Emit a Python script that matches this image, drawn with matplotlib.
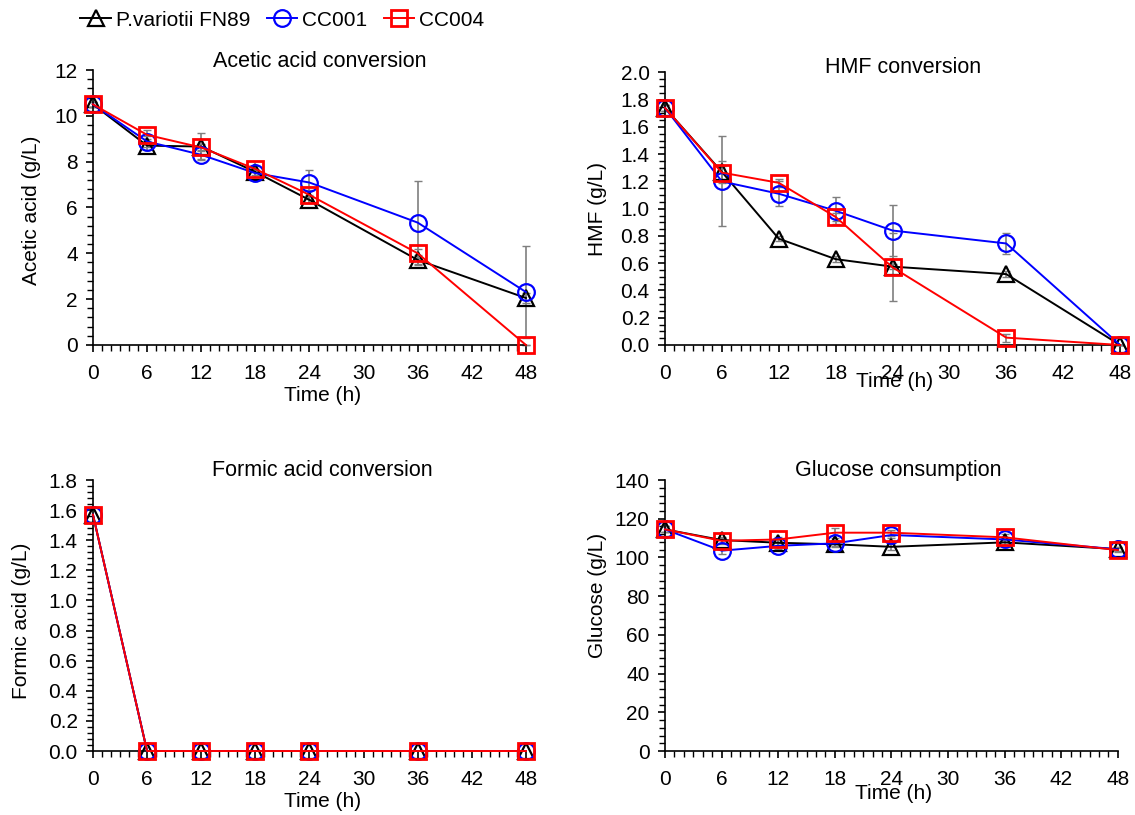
import matplotlib
matplotlib.use("Agg")
import matplotlib.pyplot as plt
from matplotlib.ticker import MultipleLocator

plt.rcParams['font.family'] = ['Liberation Sans', 'DejaVu Sans']
plt.rcParams['font.size'] = 15

# sampling times (h)
time = [0, 6, 12, 18, 24, 36, 48]
strains = ["P.variotii FN89", "CC001", "CC004"]

# acetic acid (g/L)
acetic_fn89 = [10.5, 8.7, 8.66, 7.55, 6.33, 3.71, 2.05]
acetic_cc001 = [10.5, 8.88, 8.3, 7.5, 7.09, 5.34, 2.31]
acetic_cc004 = [10.5, 9.17, 8.62, 7.68, 6.55, 4.0, 0.0]
acetic_fn89_err = [0.1, 0.2, 0.6, 0.15, 0.15, 0.2, 0.2]
acetic_cc001_err = [0.1, 0.25, 0.2, 0.15, 0.55, 1.8, 2.0]
acetic_cc004_err = [0.1, 0.2, 0.15, 0.15, 0.2, 0.2, 0.0]

# HMF (g/L)
hmf_fn89 = [1.74, 1.27, 0.78, 0.63, 0.575, 0.52, 0.0]
hmf_cc001 = [1.74, 1.20, 1.11, 0.985, 0.84, 0.745, 0.0]
hmf_cc004 = [1.74, 1.265, 1.19, 0.94, 0.57, 0.054, 0.0]
hmf_fn89_err = [0.02, 0.08, 0.02, 0.02, 0.02, 0.02, 0.0]
hmf_cc001_err = [0.02, 0.33, 0.09, 0.1, 0.19, 0.08, 0.0]
hmf_cc004_err = [0.02, 0.05, 0.03, 0.03, 0.25, 0.03, 0.0]

# formic acid (g/L)
formic_fn89 = [1.57, 0, 0, 0, 0, 0, 0]
formic_cc001 = [1.57, 0, 0, 0, 0, 0, 0]
formic_cc004 = [1.57, 0, 0, 0, 0, 0, 0]

# glucose (g/L)
glucose_fn89 = [114.5, 109.0, 107.6, 106.8, 105.5, 107.8, 104.3]
glucose_cc001 = [114.5, 103.5, 106.0, 107.3, 111.6, 109.3, 104.2]
glucose_cc004 = [114.5, 108.6, 109.3, 112.8, 112.8, 110.4, 103.8]
glucose_fn89_err = [1.5, 1.5, 2.0, 1.5, 1.5, 1.5, 1.0]
glucose_cc001_err = [1.5, 1.5, 1.5, 1.5, 1.5, 1.5, 1.0]
glucose_cc004_err = [1.5, 1.5, 1.5, 2.5, 1.5, 1.5, 1.0]

styles = [
    dict(color='black', marker='^', ms=11, mew=1.6),
    dict(color='blue', marker='o', ms=12, mew=1.6),
    dict(color='red', marker='s', ms=11, mew=2.0),
]

fig = plt.figure(figsize=(11.35, 8.15), dpi=100)

panels = [
    # rect, series, errors, ylim, major, minor, ylabel, title, title pos, ylabel pos, xlabel pos
    ([0.0819, 0.5767, 0.3815, 0.3374],
     [acetic_fn89, acetic_cc001, acetic_cc004],
     [acetic_fn89_err, acetic_cc001_err, acetic_cc004_err],
     (0, 12), 2, 0.4, "Acetic acid (g/L)", "Acetic acid conversion",
     (0.524, 1.03), (-0.12, 0.49), (0.53, -0.15), '%d'),
    ([0.5859, 0.5767, 0.4009, 0.3344],
     [hmf_fn89, hmf_cc001, hmf_cc004],
     [hmf_fn89_err, hmf_cc001_err, hmf_cc004_err],
     (0, 2.0), 0.2, 0.05, "HMF (g/L)", "HMF conversion",
     (0.523, 1.02), (-0.127, 0.5), (0.505, -0.1), '%.1f'),
    ([0.0819, 0.0785, 0.3815, 0.3325],
     [formic_fn89, formic_cc001, formic_cc004],
     None,
     (0, 1.8), 0.2, 0.04, "Formic acid (g/L)", "Formic acid conversion",
     (0.53, 1.035), (-0.143, 0.48), (0.53, -0.152), '%.1f'),
    ([0.5859, 0.0785, 0.399, 0.3325],
     [glucose_fn89, glucose_cc001, glucose_cc004],
     [glucose_fn89_err, glucose_cc001_err, glucose_cc004_err],
     (0, 140), 20, 4, "Glucose (g/L)", "Glucose consumption",
     (0.514, 1.035), (-0.127, 0.575), (0.505, -0.122), '%d'),
]

handles = []
for rect, series, errs, ylim, major, minor, ylabel, title, tpos, ylpos, xlpos, fmt in panels:
    ax = fig.add_axes(rect)
    for i, vals in enumerate(series):
        if errs is not None:
            ax.errorbar(time, vals, yerr=errs[i], fmt='none', ecolor='#7f7f7f',
                        elinewidth=1.2, capsize=3, capthick=1.0, zorder=2, clip_on=False)
        st = styles[i]
        ln, = ax.plot(time, vals, color=st['color'], lw=1.4, marker=st['marker'],
                      ms=st['ms'], mfc='none', mec=st['color'], mew=st['mew'],
                      zorder=3 + i, clip_on=False, label=strains[i])
        if len(handles) < 3:
            handles.append(ln)
    ax.set_xlim(0, 48)
    ax.set_ylim(*ylim)
    ax.xaxis.set_major_locator(MultipleLocator(6))
    ax.xaxis.set_minor_locator(MultipleLocator(1))
    ax.yaxis.set_major_locator(MultipleLocator(major))
    ax.yaxis.set_minor_locator(MultipleLocator(minor))
    ax.yaxis.set_major_formatter(plt.FormatStrFormatter(fmt))
    ax.spines['top'].set_visible(False)
    ax.spines['right'].set_visible(False)
    ax.spines['left'].set_linewidth(1.2)
    ax.spines['bottom'].set_linewidth(1.2)
    ax.tick_params(axis='both', which='major', direction='out', length=5, width=1.2,
                   labelsize=15)
    ax.tick_params(axis='x', which='major', pad=9)
    ax.tick_params(axis='y', which='major', pad=6)
    ax.tick_params(axis='both', which='minor', direction='out', length=4, width=1.0)
    ax.set_ylabel(ylabel, fontsize=15)
    ax.yaxis.set_label_coords(*ylpos)
    ax.set_xlabel("Time (h)", fontsize=15)
    ax.xaxis.set_label_coords(*xlpos)
    ax.text(tpos[0], tpos[1], title, transform=ax.transAxes, ha='center', va='center',
            fontsize=15.5)

fig.legend(handles=handles, loc='upper left', bbox_to_anchor=(0.058, 1.005), ncol=3,
           frameon=False, fontsize=15, handlelength=1.45, handletextpad=0.25,
           columnspacing=0.8, borderaxespad=0.3)

fig.savefig("out.png", dpi=100)
